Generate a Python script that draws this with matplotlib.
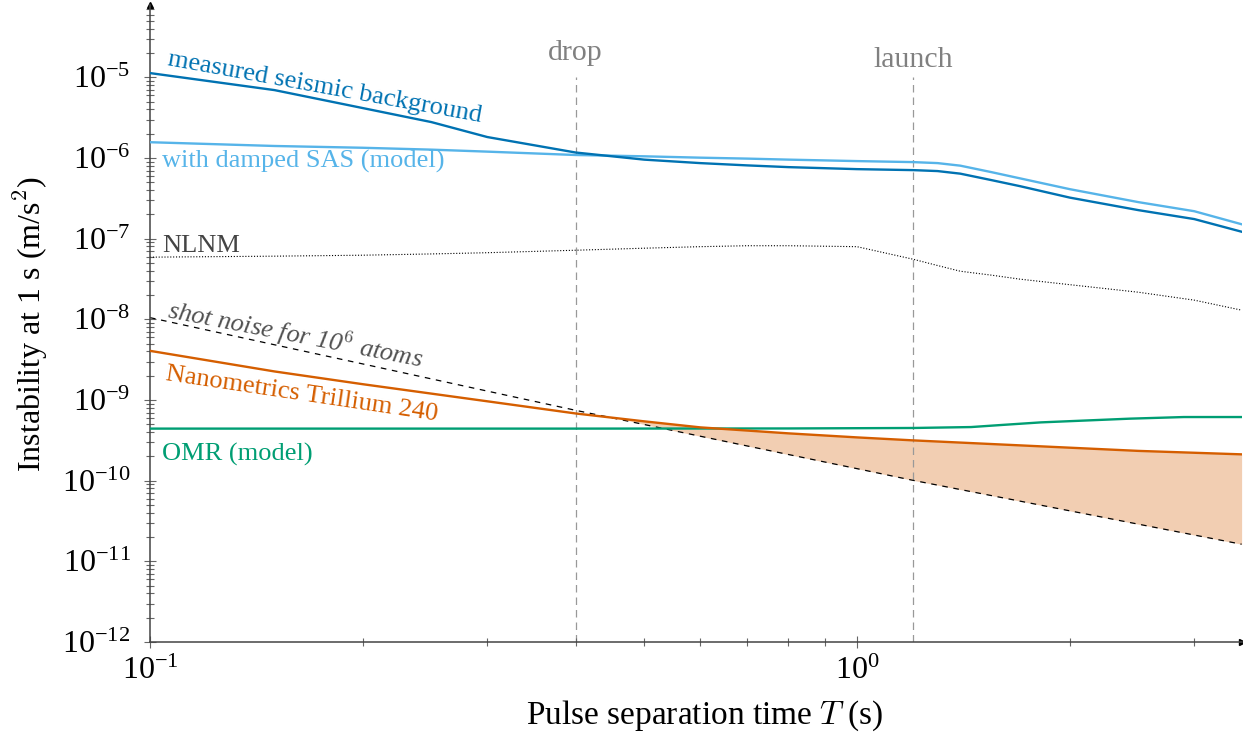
import numpy as np
import matplotlib.pyplot as plt

plt.rcParams["font.family"] = ["Liberation Serif", "DejaVu Serif"]
plt.rcParams["mathtext.fontset"] = "cm"

# pulse separation time T (s) and instability at 1 s (m/s^2)
t_seismic = [0.1, 0.15, 0.2, 0.25, 0.3, 0.4, 0.5, 0.6, 0.7, 0.8, 1.0, 1.2, 1.3, 1.4, 1.55, 1.7,
             2.0, 2.5, 3.0, 3.5]
seismic_measured = [1.13e-5, 6.95e-6, 4.16e-6, 2.79e-6, 1.82e-6, 1.17e-6, 9.55e-7, 8.65e-7, 8.10e-7,
                    7.71e-7, 7.28e-7, 7.08e-7, 6.89e-7, 6.40e-7, 5.32e-7, 4.48e-7, 3.23e-7, 2.26e-7,
                    1.75e-7, 1.22e-7]
seismic_sas = [1.57e-6, 1.41e-6, 1.34e-6, 1.27e-6, 1.20e-6, 1.09e-6, 1.05e-6, 1.01e-6, 9.83e-7,
               9.55e-7, 9.16e-7, 8.90e-7, 8.65e-7, 8.04e-7, 6.68e-7, 5.60e-7, 4.11e-7, 2.84e-7,
               2.19e-7, 1.51e-7]
nlnm = [5.90e-8, 6.07e-8, 6.24e-8, 6.47e-8, 6.70e-8, 7.19e-8, 7.62e-8, 7.96e-8, 8.18e-8, 8.18e-8,
        7.96e-8, 5.57e-8, 4.65e-8, 3.95e-8, 3.53e-8, 3.15e-8, 2.69e-8, 2.17e-8, 1.73e-8, 1.30e-8]

t_sensor = [0.1, 0.15, 0.2, 0.3, 0.4, 0.5, 0.6, 0.8, 1.0, 1.2, 1.7, 2.5, 3.5]
trillium = [4.07e-9, 2.26e-9, 1.57e-9, 9.64e-10, 6.81e-10, 5.44e-10, 4.58e-10, 3.86e-10,
            3.44e-10, 3.16e-10, 2.74e-10, 2.34e-10, 2.12e-10]
shot_noise = [1.05e-8, 4.84e-9, 2.80e-9, 1.29e-9, 7.45e-10, 4.97e-10, 3.56e-10, 2.11e-10,
              1.41e-10, 1.01e-10, 5.58e-11, 2.89e-11, 1.63e-11]

t_omr = [0.1, 0.4, 0.8, 1.2, 1.45, 1.6, 1.82, 2.43, 2.9, 3.5]
omr = [4.42e-10, 4.42e-10, 4.44e-10, 4.50e-10, 4.62e-10, 4.90e-10, 5.28e-10, 5.87e-10, 6.15e-10, 6.15e-10]

t_drop = 0.4
t_launch = 1.2

c_dark = "#0072B2"
c_light = "#56B4E9"
c_orange = "#D55E00"
c_green = "#009E73"

W, H = 1243, 737
fig = plt.figure(figsize=(W / 100, H / 100), dpi=100)
ax = fig.add_axes([150 / W, (H - 642) / H, (1241.6 - 150) / W, (642 - 5) / H])
ax.set_xscale("log")
ax.set_yscale("log")
ax.set_xlim(0.1, 3.5)
ax.set_ylim(1e-12, 10 ** -4.103)

# region where the seismometer is limited by shot noise
tr = np.array(trillium)
sn = np.array(shot_noise)
ax.fill_between(t_sensor, sn, tr, where=tr >= sn, interpolate=True,
                color=c_orange, alpha=0.3, lw=0, zorder=1)

for t in (t_drop, t_launch):
    ax.plot([t, t], [1e-12, 1e-5], color="#999999", lw=0.9, ls=(0, (6, 4)), zorder=1)

ax.plot(t_seismic, nlnm, color="black", lw=0.8, ls=(0, (1, 1.6)), zorder=2)
ax.plot(t_sensor, shot_noise, color="black", lw=0.9, ls=(0, (4.5, 4.5)), zorder=2)
ax.plot(t_omr, omr, color=c_green, lw=1.7, zorder=3)
ax.plot(t_sensor, trillium, color=c_orange, lw=1.7, zorder=3)
ax.plot(t_seismic, seismic_sas, color=c_light, lw=1.7, zorder=3)
ax.plot(t_seismic, seismic_measured, color=c_dark, lw=1.7, zorder=4)

lab = dict(fontsize=19, rotation_mode="anchor", ha="left", va="baseline")
ax.text(0.1057, 1.42e-5, "measured seismic background", color=c_dark, rotation=-10.3, **lab)
ax.text(0.104, 7.7e-7, "with damped SAS (model)", color=c_light, **lab)
ax.text(0.104, 6.9e-8, "NLNM", color="#444444", **lab)
ax.text(0.1053, 1.04e-8, "shot noise for 10$^{6}$ atoms", color="#505050",
        style="italic", rotation=-11, **lab)
ax.text(0.105, 1.76e-9, "Nanometrics Trillium 240", color=c_orange, rotation=-8.5, **lab)
ax.text(0.104, 1.8e-10, "OMR (model)", color=c_green, **lab)

ax.text(t_drop, 1.64e-5, "drop", color="#808080", fontsize=21.5, ha="center", va="baseline")
ax.text(t_launch, 1.34e-5, "launch", color="#808080", fontsize=21.5, ha="center", va="baseline")

# axis style: left/bottom lines with arrow heads
for s in ("top", "right"):
    ax.spines[s].set_visible(False)
for s in ("left", "bottom"):
    ax.spines[s].set_color("#444444")
    ax.spines[s].set_linewidth(1.1)
ax.plot(1, 0, ">", color="black", ms=5, transform=ax.transAxes, clip_on=False)
ax.plot(0, 1, "^", color="black", ms=5, transform=ax.transAxes, clip_on=False)

ax.set_yticks([10.0 ** k for k in range(-12, -4)])
ax.tick_params(which="both", direction="inout", color="#666666", width=0.8)
ax.tick_params(which="major", length=8, labelsize=23)
ax.tick_params(axis="y", which="major", pad=10)
ax.tick_params(axis="x", which="major", pad=7)
ax.tick_params(which="minor", length=5.5)
ax.tick_params(axis="y", which="minor", labelleft=False)
ax.tick_params(axis="x", which="minor", labelbottom=False)

ax.set_xlabel("Pulse separation time $T$ (s)", fontsize=24)
ax.set_ylabel("Instability at 1 s (m/s$^2$)", fontsize=23)
ax.xaxis.set_label_coords(0.508, -0.088)
ax.yaxis.set_label_coords(-0.092, 0.5)

fig.savefig("out.png", dpi=100)
